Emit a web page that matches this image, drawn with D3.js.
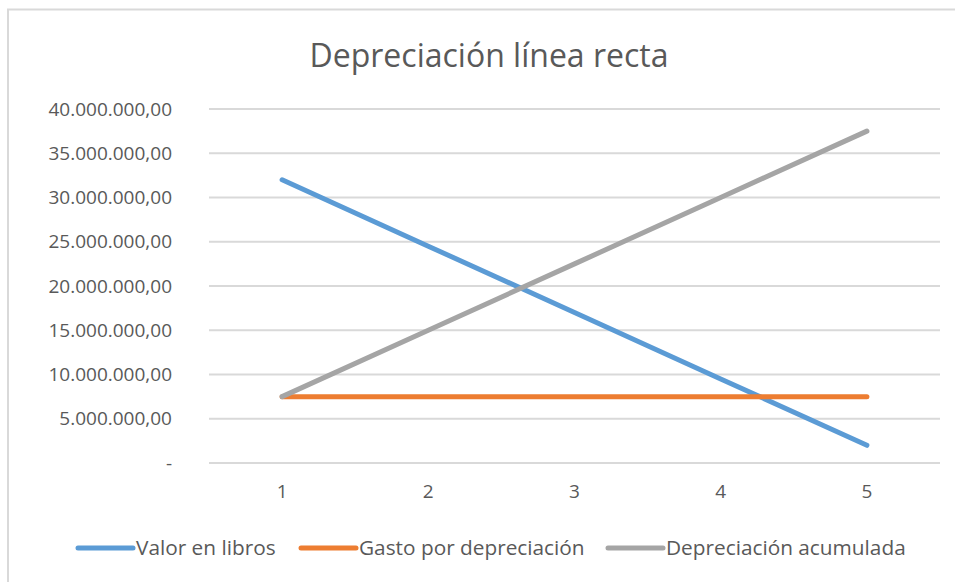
<!DOCTYPE html>
<html lang="es">
<head>
<meta charset="UTF-8">
<title>Depreciación línea recta</title>
<script src="https://d3js.org/d3.v7.min.js"></script>
<style>
  body { margin: 0; background: #fff; }
  text { font-family: "Open Sans", "Noto Sans", sans-serif; fill: #595959; }
</style>
</head>
<body>
<div id="grafico"></div>
<script>
// datos del gráfico
const periodos = [1, 2, 3, 4, 5];
const valorLibros = [32000000, 24500000, 17000000, 9500000, 2000000];
const gastoDepreciacion = [7500000, 7500000, 7500000, 7500000, 7500000];
const depAcumulada = [7500000, 15000000, 22500000, 30000000, 37500000];
const ticksY = [0, 5000000, 10000000, 15000000, 20000000, 25000000, 30000000, 35000000, 40000000];

const series = [
  { nombre: "Valor en libros", valores: valorLibros, color: "#5B9BD5" },
  { nombre: "Gasto por depreciación", valores: gastoDepreciacion, color: "#ED7D31" },
  { nombre: "Depreciación acumulada", valores: depAcumulada, color: "#A5A5A5" }
];

const width = 955, height = 582;
const svg = d3.select("#grafico").append("svg")
  .attr("width", width).attr("height", height);

// marco del gráfico
svg.append("rect")
  .attr("x", 8).attr("y", 9.5)
  .attr("width", 1000).attr("height", 1000)
  .attr("fill", "none").attr("stroke", "#D9D9D9").attr("stroke-width", 2);

// título
svg.append("text")
  .attr("x", 489).attr("y", 67)
  .attr("text-anchor", "middle")
  .style("font-size", "32px")
  .text("Depreciación línea recta");

const x = d3.scaleBand().domain(periodos).range([209, 940]);
const y = d3.scaleLinear().domain([0, 40000000]).range([463, 109]);

// formato español: 40.000.000,00 y "-" para el cero
const fmt = d => d === 0 ? "-" : d3.format(",.2f")(d).replace(/,/g, "#").replace(/\./g, ",").replace(/#/g, ".");

// líneas de cuadrícula
svg.append("g")
  .selectAll("line")
  .data(ticksY)
  .join("line")
  .attr("x1", 209).attr("x2", 940)
  .attr("y1", d => y(d)).attr("y2", d => y(d))
  .attr("stroke", "#D9D9D9").attr("stroke-width", 2);

// eje y
const ejeY = svg.append("g")
  .attr("transform", "translate(172,0)")
  .call(d3.axisLeft(y).tickValues(ticksY).tickFormat(fmt).tickSize(0).tickPadding(0));
ejeY.select(".domain").remove();
ejeY.selectAll("text").style("font-size", "19px").attr("fill", "#595959");

// eje x
const ejeX = svg.append("g")
  .attr("transform", "translate(0,484)")
  .call(d3.axisBottom(x).tickSize(0).tickPadding(0));
ejeX.select(".domain").remove();
ejeX.selectAll("text").style("font-size", "19px").attr("fill", "#595959");

// líneas de las series
const linea = d3.line()
  .x((d, i) => x(periodos[i]) + x.bandwidth() / 2)
  .y(d => y(d));

svg.append("g")
  .selectAll("path")
  .data(series)
  .join("path")
  .attr("d", s => linea(s.valores))
  .attr("fill", "none")
  .attr("stroke", s => s.color)
  .attr("stroke-width", 5)
  .attr("stroke-linecap", "round")
  .attr("stroke-linejoin", "round");

// leyenda
const posLeyenda = [78, 301, 608];
const leyenda = svg.append("g").selectAll("g")
  .data(series)
  .join("g")
  .attr("transform", (s, i) => `translate(${posLeyenda[i]},548)`);
leyenda.append("line")
  .attr("x1", 0).attr("x2", 55)
  .attr("stroke", s => s.color)
  .attr("stroke-width", 5)
  .attr("stroke-linecap", "round");
leyenda.append("text")
  .attr("x", 58).attr("dy", "0.35em")
  .style("font-size", "20.8px")
  .text(s => s.nombre);
</script>
</body>
</html>
